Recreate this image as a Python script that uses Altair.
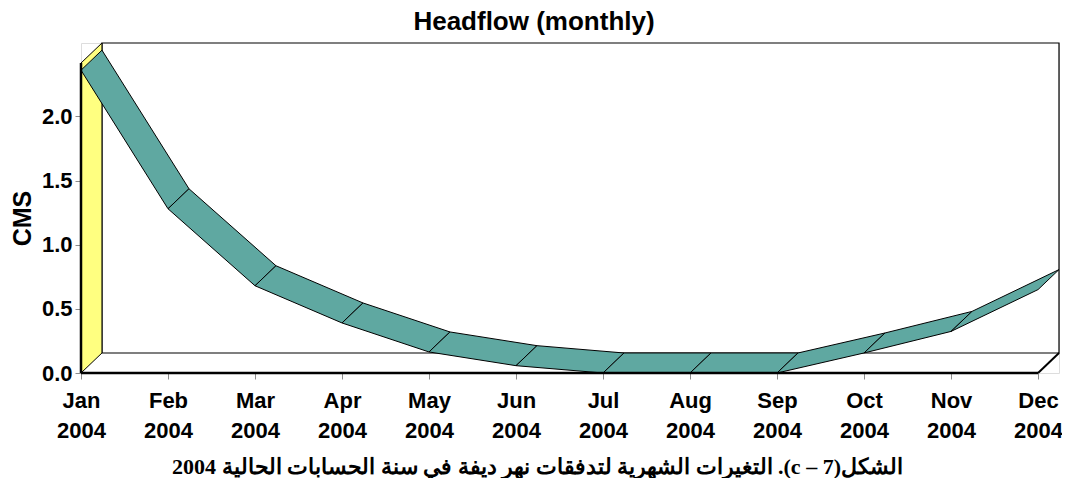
import altair as alt
import pandas as pd

# ---------------- data ----------------
months = ["Jan", "Feb", "Mar", "Apr", "May", "Jun",
          "Jul", "Aug", "Sep", "Oct", "Nov", "Dec"]
year_label = "2004"
headflow = [2.36, 1.28, 0.68, 0.39, 0.164, 0.057, 0.0, 0.0, 0.0, 0.156, 0.324, 0.65]
y_ticks = [0.0, 0.5, 1.0, 1.5, 2.0]
chart_title = "Headflow (monthly)"
y_title = "CMS"
caption = "الشكل(7 – c). التغيرات الشهرية لتدفقات نهر ديفة في سنة الحسابات الحالية 2004"

# ---------------- 3-D look (depth offsets in data units) ----------------
DX = 0.241     # depth offset along x (months)
DY = 0.156     # depth offset along y (CMS)
Y_TOP = 2.416  # top of the front value axis
n = len(months)

TEAL = "#5fa8a1"
YELLOW = "#ffff80"
SANS = "Liberation Sans"

rows = []
for i in range(n - 1):
    a, b = headflow[i], headflow[i + 1]
    pts = [(i, a), (i + 1, b), (i + 1 + DX, b + DY), (i + DX, a + DY), (i, a)]
    for k, (x, y) in enumerate(pts):
        rows.append({"seg": i, "ord": k, "x": x, "y": y})
ribbon = pd.DataFrame(rows)

wall = pd.DataFrame({"x": [0, 0, DX, DX, 0],
                     "y": [0, Y_TOP, Y_TOP + DY, DY, 0],
                     "ord": list(range(5))})
back = pd.DataFrame({"x": [DX], "x2": [n - 1 + DX], "y": [DY], "y2": [Y_TOP + DY]})
floor_edge = pd.DataFrame({"x": [n - 1, n - 1 + DX], "y": [0, DY], "ord": [0, 1]})
front_x = pd.DataFrame({"x": [0, n - 1], "y": [0, 0], "ord": [0, 1]})
front_y = pd.DataFrame({"x": [0, 0], "y": [0, Y_TOP], "ord": [0, 1]})

xs = alt.Scale(domain=[0, n - 1 + DX], nice=False, zero=False)
ys = alt.Scale(domain=[0, Y_TOP + DY], nice=False, zero=False)

month_js = "[" + ",".join("'%s'" % m for m in months) + "][datum.value]"
label_expr = "[%s, '%s']" % (month_js, year_label)

x_axis = alt.Axis(values=list(range(n)), labelExpr=label_expr, domain=False,
                  grid=False, ticks=True, tickColor="#8c8c8c", tickSize=6,
                  tickWidth=1, labelFont=SANS, labelFontSize=22,
                  labelFontWeight="bold", labelColor="black", labelLineHeight=30,
                  labelPadding=11, labelAngle=0, labelFlush=False,
                  labelOverlap=False,
                  title="\u202b" + caption + "\u202c",
                  titleFont="Liberation Serif", titleFontSize=22,
                  titleFontWeight="bold", titleColor="black",
                  titleX=456, titleY=93, titleAlign="center",
                  titleBaseline="middle", titleAngle=0)
y_axis = alt.Axis(values=y_ticks, format=".1f", domain=False, grid=False,
                  ticks=True, tickColor="#8c8c8c", tickSize=6, tickWidth=1,
                  labelFont=SANS, labelFontSize=22, labelFontWeight="bold",
                  labelColor="black", labelPadding=3, labelFlush=False,
                  title=y_title, titleFont=SANS, titleFontSize=25,
                  titleFontWeight="bold", titleColor="black",
                  titleX=-59, titleY=175, titleAngle=-90, titleAlign="center",
                  titleBaseline="middle")


def xenc():
    return alt.X("x:Q", scale=xs, axis=x_axis)


def yenc():
    return alt.Y("y:Q", scale=ys, axis=y_axis)


backwall = alt.Chart(back).mark_rect(fill="white", stroke="black",
                                      strokeWidth=1.2).encode(
    x=xenc(), x2="x2:Q", y=yenc(), y2="y2:Q",
)

edge = alt.Chart(floor_edge).mark_line(stroke="black", strokeWidth=2).encode(
    x=xenc(), y=yenc(), order="ord:O",
)

side = alt.Chart(wall).mark_line(fill=YELLOW, stroke="black", strokeWidth=1,
                                 strokeJoin="miter").encode(
    x=xenc(), y=yenc(), order="ord:O",
)

band = alt.Chart(ribbon).mark_line(fill=TEAL, stroke="black", strokeWidth=1,
                                   strokeJoin="miter").encode(
    x=xenc(), y=yenc(), detail="seg:N", order="ord:O",
)

axis_x_line = alt.Chart(front_x).mark_line(stroke="black", strokeWidth=2.5).encode(
    x=xenc(), y=yenc(), order="ord:O",
)
axis_y_line = alt.Chart(front_y).mark_line(stroke="black", strokeWidth=2.5).encode(
    x=xenc(), y=yenc(), order="ord:O",
)

chart = alt.layer(backwall, edge, side, band, axis_x_line, axis_y_line).properties(
    width=978,
    height=330,
    padding={"left": 73, "top": 35, "right": 3, "bottom": 105},
    autosize=alt.AutoSizeParams(type="none"),
    title=alt.TitleParams(chart_title, font=SANS, fontSize=26, fontWeight="bold",
                          color="black", anchor="middle", dx=-36, offset=6),
).configure_view(stroke=None).configure(background="white")

chart.save("out.html", embed_options={"renderer": "svg", "actions": False})
